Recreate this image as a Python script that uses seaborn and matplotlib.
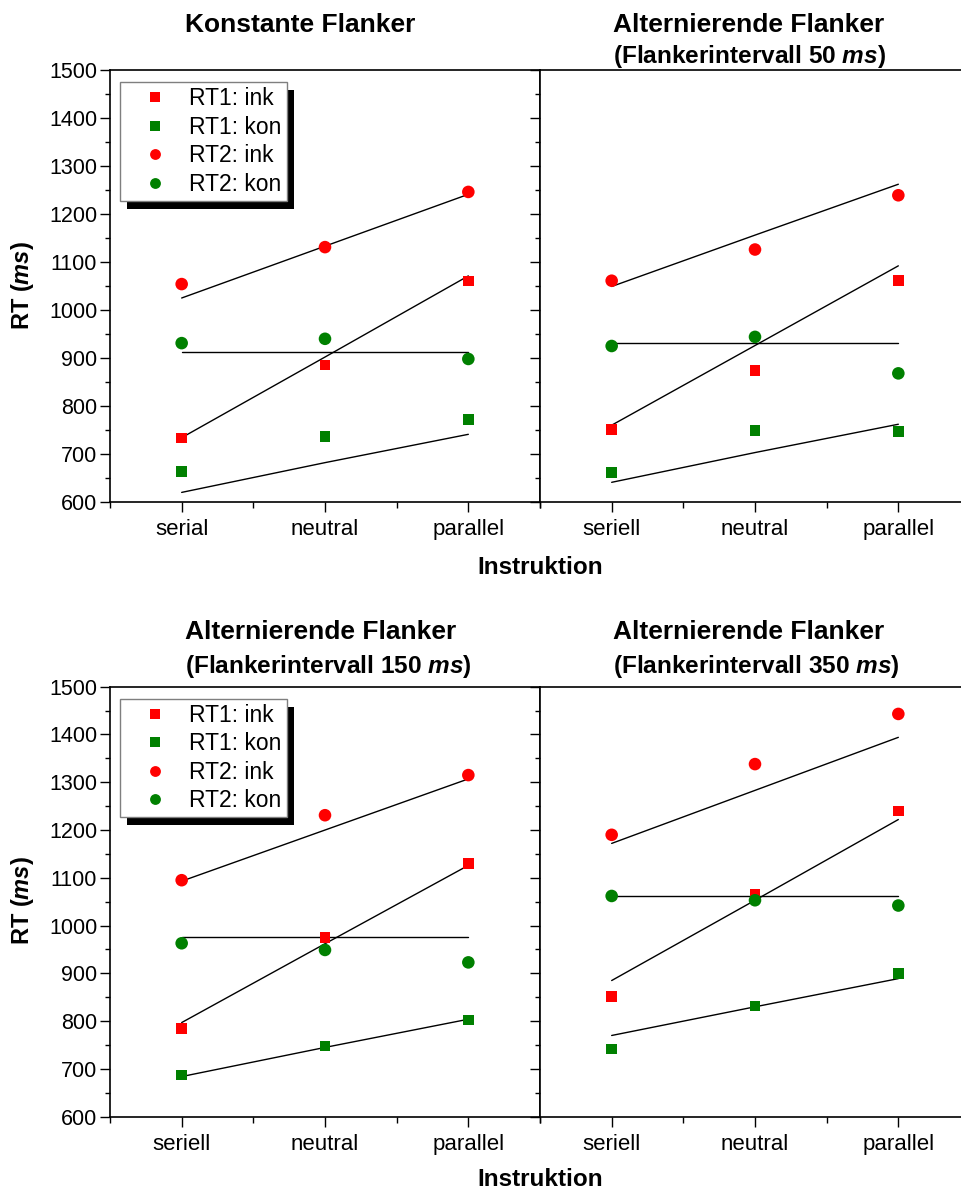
import matplotlib
matplotlib.use("Agg")
import matplotlib.pyplot as plt
from matplotlib.lines import Line2D
from matplotlib.patches import Rectangle
from matplotlib.ticker import MultipleLocator, FixedLocator
import seaborn as sns
import pandas as pd

# ---------------------------------------------------------------- data
instr_serial = ["serial", "neutral", "parallel"]
instr_seriell = ["seriell", "neutral", "parallel"]

series_names = ["RT1: ink", "RT1: kon", "RT2: ink", "RT2: kon"]

# Konstante Flanker
konst_rt1_ink = [733, 885, 1060]
konst_rt1_kon = [663, 737, 772]
konst_rt2_ink = [1054, 1131, 1246]
konst_rt2_kon = [931, 940, 898]
konst_fit_rt1_ink = [734, 902, 1071]
konst_fit_rt1_kon = [620, 682, 741]
konst_fit_rt2_ink = [1025, 1133, 1241]
konst_fit_rt2_kon = [912, 912, 912]

# Alternierende Flanker, 50 ms
alt50_rt1_ink = [751, 874, 1061]
alt50_rt1_kon = [662, 749, 747]
alt50_rt2_ink = [1061, 1126, 1239]
alt50_rt2_kon = [925, 944, 868]
alt50_fit_rt1_ink = [760, 926, 1092]
alt50_fit_rt1_kon = [641, 703, 762]
alt50_fit_rt2_ink = [1049, 1156, 1262]
alt50_fit_rt2_kon = [932, 932, 932]

# Alternierende Flanker, 150 ms
alt150_rt1_ink = [785, 975, 1130]
alt150_rt1_kon = [687, 748, 802]
alt150_rt2_ink = [1095, 1231, 1315]
alt150_rt2_kon = [963, 949, 923]
alt150_fit_rt1_ink = [797, 962, 1126]
alt150_fit_rt1_kon = [684, 745, 804]
alt150_fit_rt2_ink = [1093, 1200, 1307]
alt150_fit_rt2_kon = [976, 976, 976]

# Alternierende Flanker, 350 ms
alt350_rt1_ink = [852, 1065, 1240]
alt350_rt1_kon = [742, 832, 900]
alt350_rt2_ink = [1190, 1338, 1443]
alt350_rt2_kon = [1062, 1053, 1042]
alt350_fit_rt1_ink = [885, 1053, 1222]
alt350_fit_rt1_kon = [770, 830, 889]
alt350_fit_rt2_ink = [1172, 1283, 1394]
alt350_fit_rt2_kon = [1062, 1062, 1062]

y_ticks = [600, 700, 800, 900, 1000, 1100, 1200, 1300, 1400, 1500]

panel_titles = [
    ["Konstante Flanker"],
    ["Alternierende Flanker", "(Flankerintervall 50 $\\mathit{ms}$)"],
    ["Alternierende Flanker", "(Flankerintervall 150 $\\mathit{ms}$)"],
    ["Alternierende Flanker", "(Flankerintervall 350 $\\mathit{ms}$)"],
]

# ---------------------------------------------------------------- style
sns.set_theme(style="white")
plt.rcParams["font.family"] = ["Liberation Sans", "DejaVu Sans"]
plt.rcParams["mathtext.fontset"] = "custom"
plt.rcParams["mathtext.it"] = "Liberation Sans:italic:bold"
plt.rcParams["mathtext.rm"] = "Liberation Sans:bold"
plt.rcParams["mathtext.bf"] = "Liberation Sans:bold"

RED = "#ff0000"
GREEN = "#008000"
colors = {"RT1: ink": RED, "RT1: kon": GREEN, "RT2: ink": RED, "RT2: kon": GREEN}
markers = {"RT1: ink": "s", "RT1: kon": "s", "RT2: ink": "o", "RT2: kon": "o"}


def long_frame(cats, rt1_ink, rt1_kon, rt2_ink, rt2_kon):
    rows = []
    for name, vals in zip(series_names, [rt1_ink, rt1_kon, rt2_ink, rt2_kon]):
        for c, v in zip(cats, vals):
            rows.append({"Instruktion": c, "Serie": name, "RT": v})
    return pd.DataFrame(rows)


panels = [
    (instr_serial,
     long_frame(instr_serial, konst_rt1_ink, konst_rt1_kon, konst_rt2_ink, konst_rt2_kon),
     long_frame(instr_serial, konst_fit_rt1_ink, konst_fit_rt1_kon, konst_fit_rt2_ink, konst_fit_rt2_kon)),
    (instr_seriell,
     long_frame(instr_seriell, alt50_rt1_ink, alt50_rt1_kon, alt50_rt2_ink, alt50_rt2_kon),
     long_frame(instr_seriell, alt50_fit_rt1_ink, alt50_fit_rt1_kon, alt50_fit_rt2_ink, alt50_fit_rt2_kon)),
    (instr_seriell,
     long_frame(instr_seriell, alt150_rt1_ink, alt150_rt1_kon, alt150_rt2_ink, alt150_rt2_kon),
     long_frame(instr_seriell, alt150_fit_rt1_ink, alt150_fit_rt1_kon, alt150_fit_rt2_ink, alt150_fit_rt2_kon)),
    (instr_seriell,
     long_frame(instr_seriell, alt350_rt1_ink, alt350_rt1_kon, alt350_rt2_ink, alt350_rt2_kon),
     long_frame(instr_seriell, alt350_fit_rt1_ink, alt350_fit_rt1_kon, alt350_fit_rt2_ink, alt350_fit_rt2_kon)),
]

# ---------------------------------------------------------------- layout (pixels)
W, H = 962, 1195
fig = plt.figure(figsize=(W / 100, H / 100), dpi=100)
fig.patch.set_facecolor("white")


def px_axes(x0, y0, w, h):
    return fig.add_axes([x0 / W, 1 - (y0 + h) / H, w / W, h / H])


rows_px = [(70, 432), (686.7, 430)]
cols_px = [110, 540]
PANEL_W = 430

axes = []
for (y0, h) in rows_px:
    for x0 in cols_px:
        axes.append(px_axes(x0, y0, PANEL_W, h))

for i, (ax, (cats, pts, fits)) in enumerate(zip(axes, panels)):
    # model lines
    for name in series_names:
        sub = fits[fits["Serie"] == name]
        sns.lineplot(data=sub, x="Instruktion", y="RT", sort=False, color="black",
                     linewidth=1.0, ax=ax, legend=False, zorder=2)
    # observed means: squares for RT1, circles for RT2
    sq = pts[pts["Serie"].str.startswith("RT1")]
    ci = pts[pts["Serie"].str.startswith("RT2")]
    sns.scatterplot(data=sq, x="Instruktion", y="RT", hue="Serie", palette=colors,
                    marker="s", s=58, linewidth=0, ax=ax, legend=False, zorder=3)
    sns.scatterplot(data=ci, x="Instruktion", y="RT", hue="Serie", palette=colors,
                    marker="o", s=82, linewidth=0, ax=ax, legend=False, zorder=3)

    ax.set_xlim(-0.5, 2.5)
    ax.set_ylim(600, 1500)
    ax.set_xlabel("")
    ax.set_ylabel("")
    ax.set_facecolor("white")
    for sp in ax.spines.values():
        sp.set_visible(True)
        sp.set_color("black")
        sp.set_linewidth(1.2)

    ax.xaxis.set_major_locator(FixedLocator([0, 1, 2]))
    ax.set_xticklabels(cats)
    ax.xaxis.set_minor_locator(FixedLocator([-0.5, 0.5, 1.5, 2.5]))
    ax.yaxis.set_major_locator(FixedLocator(y_ticks))
    ax.yaxis.set_minor_locator(MultipleLocator(50))

    ax.tick_params(axis="x", which="major", direction="out", length=7.2, width=1.0,
                   color="black", labelsize=16, pad=5, bottom=True, top=False)
    ax.tick_params(axis="x", which="minor", direction="out", length=4.3, width=1.0,
                   color="black", bottom=True, top=False)
    ax.tick_params(axis="y", which="major", direction="out", length=7.2, width=1.0,
                   color="black", labelsize=15.5, pad=2, left=True, right=False)
    ax.tick_params(axis="y", which="minor", direction="out", length=3.6, width=1.0,
                   color="black", left=True, right=False)
    if i % 2 == 1:
        ax.tick_params(axis="y", which="both", labelleft=False)
    for lab in ax.get_xticklabels() + ax.get_yticklabels():
        lab.set_color("black")

# ---------------------------------------------------------------- legends with hard shadow
legend_handles = [
    Line2D([], [], linestyle="none", marker=markers[n], color=colors[n],
           markeredgewidth=0, markersize=7.3 if markers[n] == "s" else 7.8)
    for n in series_names
]

fig.canvas.draw()
for ax, y0, h in [(axes[0], 70, 432), (axes[2], 686.7, 430)]:
    leg = ax.legend(legend_handles, series_names, loc="upper left",
                    bbox_to_anchor=(10 / PANEL_W, 1 - 12 / h), borderaxespad=0,
                    fontsize=16.5, frameon=True, fancybox=False, framealpha=1,
                    edgecolor="#7f7f7f", facecolor="white", borderpad=0.22,
                    handlelength=2.6, handletextpad=0.2, labelspacing=0.24)
    leg.get_frame().set_linewidth(1.0)
    leg.set_zorder(6)
    for t in leg.get_texts():
        t.set_color("black")
    fig.canvas.draw()
    bb = leg.get_window_extent().transformed(ax.transAxes.inverted())
    ax.add_patch(Rectangle((bb.x0 + 7 / PANEL_W, bb.y0 - 8 / h), bb.width, bb.height,
                           transform=ax.transAxes, facecolor="black", edgecolor="none",
                           zorder=5.5, clip_on=False))

# ---------------------------------------------------------------- titles and axis labels
title_pos = [(185, 25, 31), (613, 25, 31), (185, 632, 35), (613, 632, 35)]
for lines, (tx, ty, dy) in zip(panel_titles, title_pos):
    for k, line in enumerate(lines):
        fig.text(tx / W, 1 - (ty + k * dy) / H, line, ha="left", va="center",
                 fontsize=19 if k == 0 else 17.6, fontweight="bold", color="black")

for ty in [286, 901]:
    fig.text(22 / W, 1 - ty / H, "RT ($\\mathit{ms}$)", rotation=90, ha="center",
             va="center", fontsize=17, fontweight="bold", color="black")

for ty in [567, 1180]:
    fig.text(540 / W, 1 - ty / H, "Instruktion", ha="center", va="center",
             fontsize=17.5, fontweight="bold", color="black")

fig.savefig("out.png", dpi=100, facecolor="white")
